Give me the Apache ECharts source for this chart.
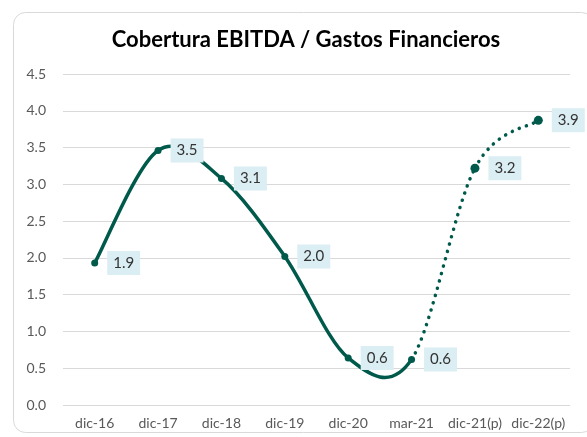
<!DOCTYPE html>
<html>
<head>
<meta charset="utf-8">
<script src="https://cdn.jsdelivr.net/npm/echarts@6/dist/echarts.min.js"></script>
<style>
  html, body { margin: 0; padding: 0; background: #fff; }
  #chart { width: 587px; height: 437px; }
</style>
</head>
<body>
<div id="chart"></div>
<script>
  // periodos
  const categories = ['dic-16', 'dic-17', 'dic-18', 'dic-19', 'dic-20', 'mar-21', 'dic-21(p)', 'dic-22(p)']
  // real (linea continua)
  const realValues = [1.93, 3.46, 3.08, 2.02, 0.64, 0.62, null, null]
  // proyectado (linea punteada)
  const projValues = [null, null, null, null, null, 0.62, 3.22, 3.87]
  const yTicks = { min: 0, max: 4.5, interval: 0.5 }

  const green = '#005A4B'
  const font = 'Lato, "Open Sans", sans-serif'

  // serie completa para la curva suavizada (estilo Excel)
  const allValues = realValues.map((v, i) => v !== null ? v : projValues[i])
  const lastReal = 5

  const labelStyle = {
    show: true,
    position: 'right',
    distance: 9,
    formatter: p => p.value.toFixed(1),
    backgroundColor: '#DAEEF3',
    padding: [5, 6, 4, 6],
    color: '#333',
    fontSize: 15,
    fontFamily: font
  }

  // segmento i -> i+1, Catmull-Rom como Bezier
  function renderSegment (params, api) {
    const i = api.value(0)
    const n = allValues.length
    const pt = j => api.coord([Math.max(0, Math.min(n - 1, j)), allValues[Math.max(0, Math.min(n - 1, j))]])
    const p0 = pt(i - 1)
    const p1 = pt(i)
    const p2 = pt(i + 1)
    const p3 = pt(i + 2)
    const dashed = i >= lastReal
    return {
      type: 'bezierCurve',
      shape: {
        x1: p1[0], y1: p1[1],
        x2: p2[0], y2: p2[1],
        cpx1: p1[0] + (p2[0] - p0[0]) / 6,
        cpy1: p1[1] + (p2[1] - p0[1]) / 6,
        cpx2: p2[0] - (p3[0] - p1[0]) / 6,
        cpy2: p2[1] - (p3[1] - p1[1]) / 6
      },
      style: {
        fill: null,
        stroke: green,
        lineWidth: 3.5,
        lineCap: 'round',
        lineDash: dashed ? [0.1, 7.5] : null
      }
    }
  }

  let myChart = echarts.init(document.getElementById('chart'))
  myChart.setOption({
    animation: false,
    title: {
      text: 'Cobertura EBITDA / Gastos Financieros',
      left: 301,
      textAlign: 'center',
      top: 24,
      textStyle: { fontSize: 22, fontWeight: 'bold', color: '#000', fontFamily: font }
    },
    graphic: [{
      type: 'rect',
      shape: { x: 13.5, y: 12.5, width: 580, height: 420, r: 12 },
      style: { fill: 'none', stroke: '#d9d9d9', lineWidth: 1 },
      z: -1
    }],
    grid: { left: 63, right: 17, top: 74, bottom: 32, containLabel: false },
    xAxis: {
      type: 'category',
      data: categories,
      boundaryGap: true,
      axisLine: { show: false },
      axisTick: { show: false },
      axisLabel: { color: '#595959', fontSize: 14, fontFamily: font, margin: 11, interval: 0 }
    },
    yAxis: {
      type: 'value',
      min: yTicks.min,
      max: yTicks.max,
      interval: yTicks.interval,
      axisLine: { show: false },
      axisTick: { show: false },
      axisLabel: { color: '#595959', fontSize: 14, fontFamily: font, margin: 17, formatter: v => v.toFixed(1) },
      splitLine: { lineStyle: { color: '#d9d9d9', width: 1 } }
    },
    series: [
      {
        type: 'custom',
        renderItem: renderSegment,
        data: allValues.slice(0, -1).map((v, i) => [i, v]),
        z: 2,
        silent: true
      },
      {
        type: 'line',
        data: realValues,
        symbol: 'circle',
        symbolSize: 7,
        itemStyle: { color: green },
        lineStyle: { width: 0, opacity: 0 },
        label: labelStyle,
        z: 3
      },
      {
        type: 'line',
        data: projValues.map((v, i) => i === lastReal ? { value: v, symbol: 'none', label: { show: false } } : v),
        symbol: 'circle',
        symbolSize: 9,
        itemStyle: { color: green },
        lineStyle: { width: 0, opacity: 0 },
        label: labelStyle,
        z: 3
      }
    ]
  })
</script>
</body>
</html>
